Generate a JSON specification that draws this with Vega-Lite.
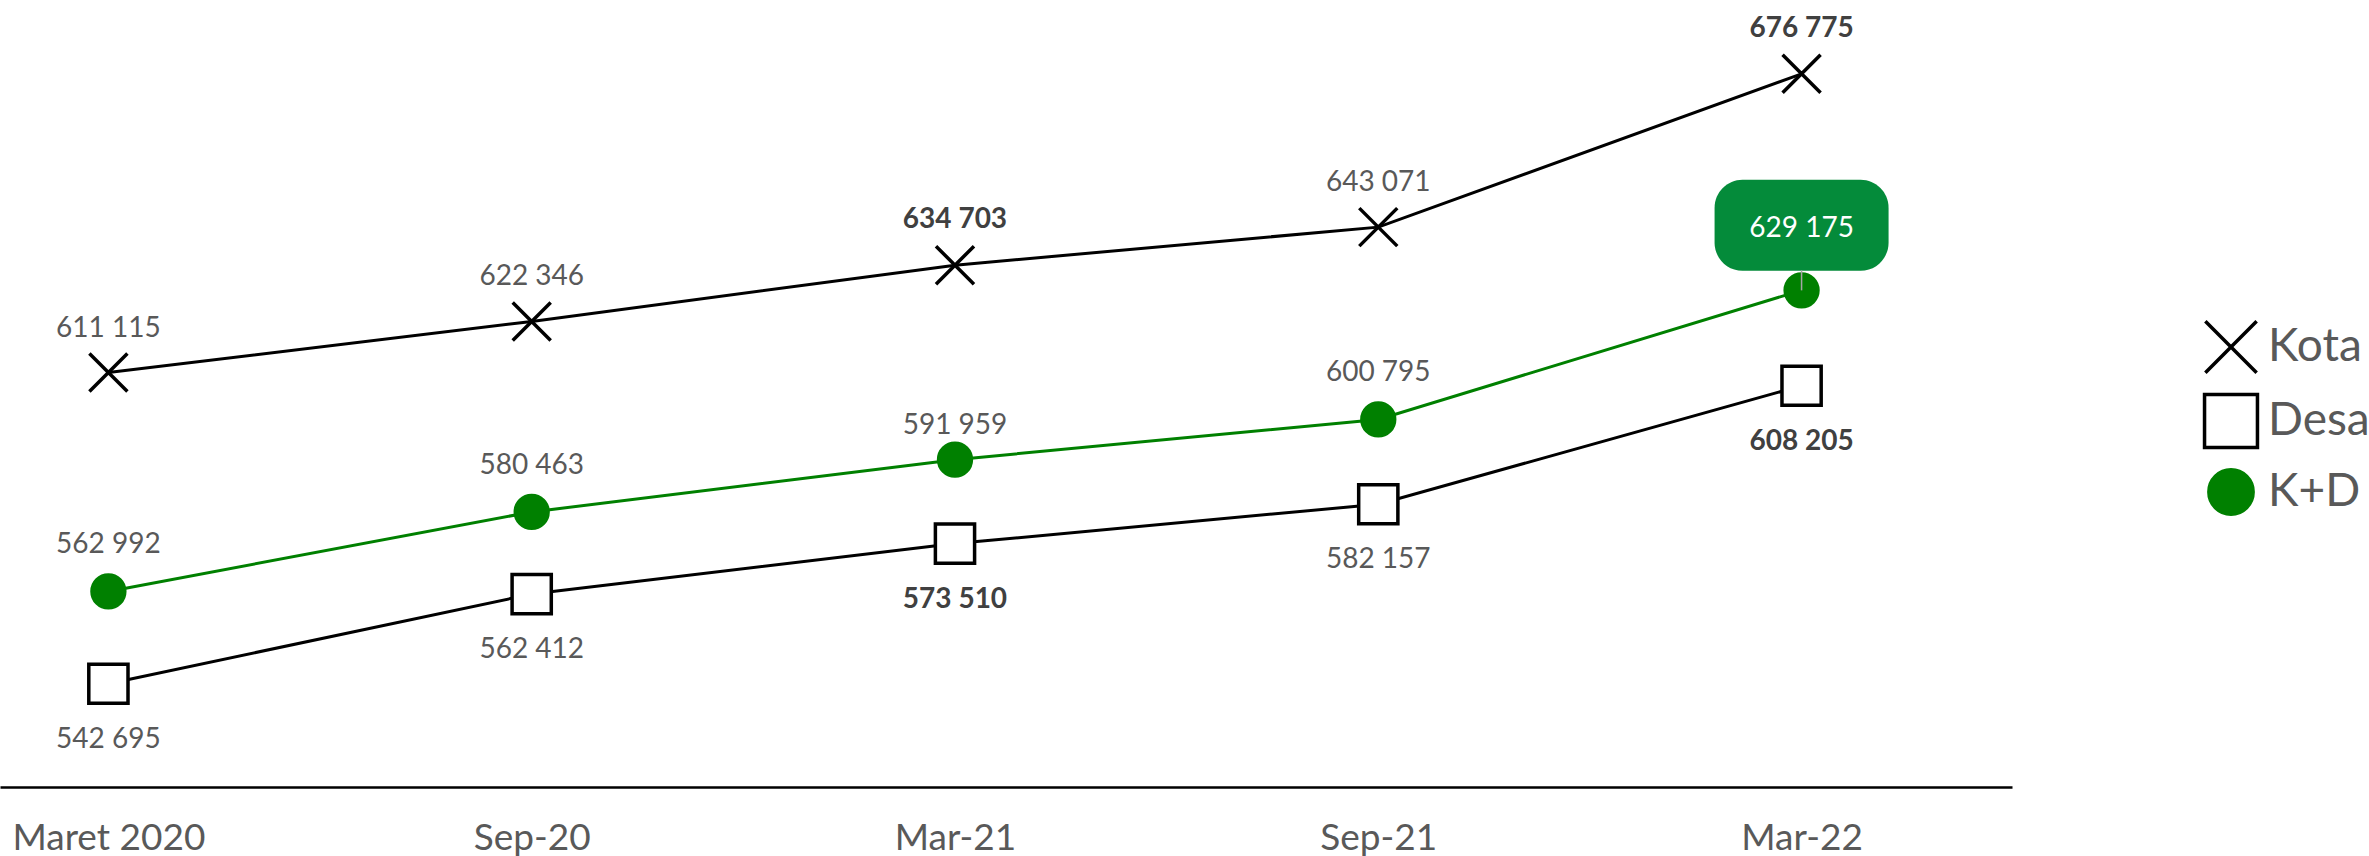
{
  "$schema": "https://vega.github.io/schema/vega-lite/v6.json",
  "width": 2012,
  "height": 787,
  "padding": 0,
  "config": {
    "view": {"stroke": null},
    "font": "Lato",
    "locale": {"number": {"decimal": ",", "thousands": " ", "grouping": [3], "currency": ["", ""]}}
  },
  "data": {
    "values": [
      {"period": "Maret 2020", "series": "Kota", "value": 611115},
      {"period": "Sep-20", "series": "Kota", "value": 622346},
      {"period": "Mar-21", "series": "Kota", "value": 634703},
      {"period": "Sep-21", "series": "Kota", "value": 643071},
      {"period": "Mar-22", "series": "Kota", "value": 676775},
      {"period": "Maret 2020", "series": "Desa", "value": 542695},
      {"period": "Sep-20", "series": "Desa", "value": 562412},
      {"period": "Mar-21", "series": "Desa", "value": 573510},
      {"period": "Sep-21", "series": "Desa", "value": 582157},
      {"period": "Mar-22", "series": "Desa", "value": 608205},
      {"period": "Maret 2020", "series": "K+D", "value": 562992},
      {"period": "Sep-20", "series": "K+D", "value": 580463},
      {"period": "Mar-21", "series": "K+D", "value": 591959},
      {"period": "Sep-21", "series": "K+D", "value": 600795},
      {"period": "Mar-22", "series": "K+D", "value": 629175}
    ]
  },
  "encoding": {
    "x": {
      "field": "period",
      "type": "ordinal",
      "sort": ["Maret 2020", "Sep-20", "Mar-21", "Sep-21", "Mar-22"],
      "scale": {"type": "point", "padding": 0.3766, "align": 0.34},
      "axis": {
        "title": null,
        "ticks": false,
        "grid": false,
        "domainColor": "#000000",
        "domainWidth": 2.5,
        "labelFont": "Lato",
        "labelFontSize": 37,
        "labelColor": "#595959",
        "labelPadding": 33,
        "labelAngle": 0,
        "labelLimit": 500
      }
    },
    "y": {
      "field": "value",
      "type": "quantitative",
      "scale": {"domain": [520000, 693000], "zero": false, "nice": false},
      "axis": null
    }
  },
  "layer": [
    {
      "mark": {"type": "line", "strokeWidth": 3},
      "encoding": {
        "detail": {"field": "series", "type": "nominal"},
        "stroke": {
          "field": "series",
          "type": "nominal",
          "title": null,
          "scale": {"domain": ["Kota", "Desa", "K+D"], "range": ["#000000", "#000000", "#008000"]}
        }
      }
    },
    {
      "mark": {"type": "point", "size": 1600, "strokeWidth": 3.5, "opacity": 1, "filled": false},
      "encoding": {
        "shape": {
          "field": "series",
          "type": "nominal",
          "title": null,
          "scale": {
            "domain": ["Kota", "Desa", "K+D"],
            "range": [
              "M-0.95,-0.95L0.95,0.95M-0.95,0.95L0.95,-0.95",
              "M-0.98,-0.98H0.98V0.98H-0.98Z",
              "M-0.82,0A0.82,0.82 0 1,0 0.82,0A0.82,0.82 0 1,0 -0.82,0Z"
            ]
          },
          "legend": {
            "orient": "none",
            "legendX": 2202,
            "legendY": 318,
            "padding": 0,
            "symbolSize": 2916,
            "symbolStrokeWidth": 3.5,
            "labelFont": "Lato",
            "labelFontSize": 46,
            "labelColor": "#595959",
            "labelOffset": 8,
            "rowPadding": 7,
            "labelLimit": 400
          }
        },
        "fill": {
          "field": "series",
          "type": "nominal",
          "title": null,
          "scale": {"domain": ["Kota", "Desa", "K+D"], "range": ["transparent", "#ffffff", "#008000"]}
        },
        "stroke": {
          "field": "series",
          "type": "nominal",
          "title": null,
          "scale": {"domain": ["Kota", "Desa", "K+D"], "range": ["#000000", "#000000", "#008000"]}
        }
      }
    },
    {
      "transform": [{"filter": "datum.series === 'Kota' && datum.period !== 'Mar-21' && datum.period !== 'Mar-22'"}],
      "mark": {"type": "text", "dy": -44, "fontSize": 28, "font": "Lato", "color": "#595959", "baseline": "middle"},
      "encoding": {"text": {"field": "value", "type": "quantitative", "format": ",d"}}
    },
    {
      "transform": [{"filter": "datum.series === 'Kota' && (datum.period === 'Mar-21' || datum.period === 'Mar-22')"}],
      "mark": {"type": "text", "dy": -45, "fontSize": 28, "font": "Lato", "fontWeight": "bold", "color": "#404040", "baseline": "middle"},
      "encoding": {"text": {"field": "value", "type": "quantitative", "format": ",d"}}
    },
    {
      "transform": [{"filter": "datum.series === 'Desa' && datum.period !== 'Mar-21' && datum.period !== 'Mar-22'"}],
      "mark": {"type": "text", "dy": 56, "fontSize": 28, "font": "Lato", "color": "#595959", "baseline": "middle"},
      "encoding": {"text": {"field": "value", "type": "quantitative", "format": ",d"}}
    },
    {
      "transform": [{"filter": "datum.series === 'Desa' && (datum.period === 'Mar-21' || datum.period === 'Mar-22')"}],
      "mark": {"type": "text", "dy": 56, "fontSize": 28, "font": "Lato", "fontWeight": "bold", "color": "#404040", "baseline": "middle"},
      "encoding": {"text": {"field": "value", "type": "quantitative", "format": ",d"}}
    },
    {
      "transform": [{"filter": "datum.series === 'K+D' && datum.period !== 'Mar-21' && datum.period !== 'Mar-22'"}],
      "mark": {"type": "text", "dy": -46, "fontSize": 28, "font": "Lato", "color": "#595959", "baseline": "middle"},
      "encoding": {"text": {"field": "value", "type": "quantitative", "format": ",d"}}
    },
    {
      "transform": [{"filter": "datum.series === 'K+D' && datum.period === 'Mar-21'"}],
      "mark": {"type": "text", "dy": -34, "fontSize": 28, "font": "Lato", "color": "#595959", "baseline": "middle"},
      "encoding": {"text": {"field": "value", "type": "quantitative", "format": ",d"}}
    },
    {
      "transform": [{"filter": "datum.series === 'K+D' && datum.period === 'Mar-22'"}],
      "mark": {
        "type": "point",
        "filled": true,
        "fill": "#048B3A",
        "strokeWidth": 0,
        "opacity": 1,
        "size": 30276,
        "yOffset": -65,
        "shape": "M-0.678,-0.523H0.678A0.322,0.322 0 0 1 1,-0.201V0.201A0.322,0.322 0 0 1 0.678,0.523H-0.678A0.322,0.322 0 0 1 -1,0.201V-0.201A0.322,0.322 0 0 1 -0.678,-0.523Z"
      },
      "encoding": {}
    },
    {
      "transform": [{"filter": "datum.series === 'K+D' && datum.period === 'Mar-22'"}],
      "mark": {"type": "rule", "color": "#A6A6A6", "strokeWidth": 1.5, "y2Offset": -20},
      "encoding": {"y2": {"field": "value"}}
    },
    {
      "transform": [{"filter": "datum.series === 'K+D' && datum.period === 'Mar-22'"}],
      "mark": {"type": "text", "dy": -61, "fontSize": 28, "font": "Lato", "color": "#ffffff", "baseline": "middle"},
      "encoding": {"text": {"field": "value", "type": "quantitative", "format": ",d"}}
    }
  ]
}
